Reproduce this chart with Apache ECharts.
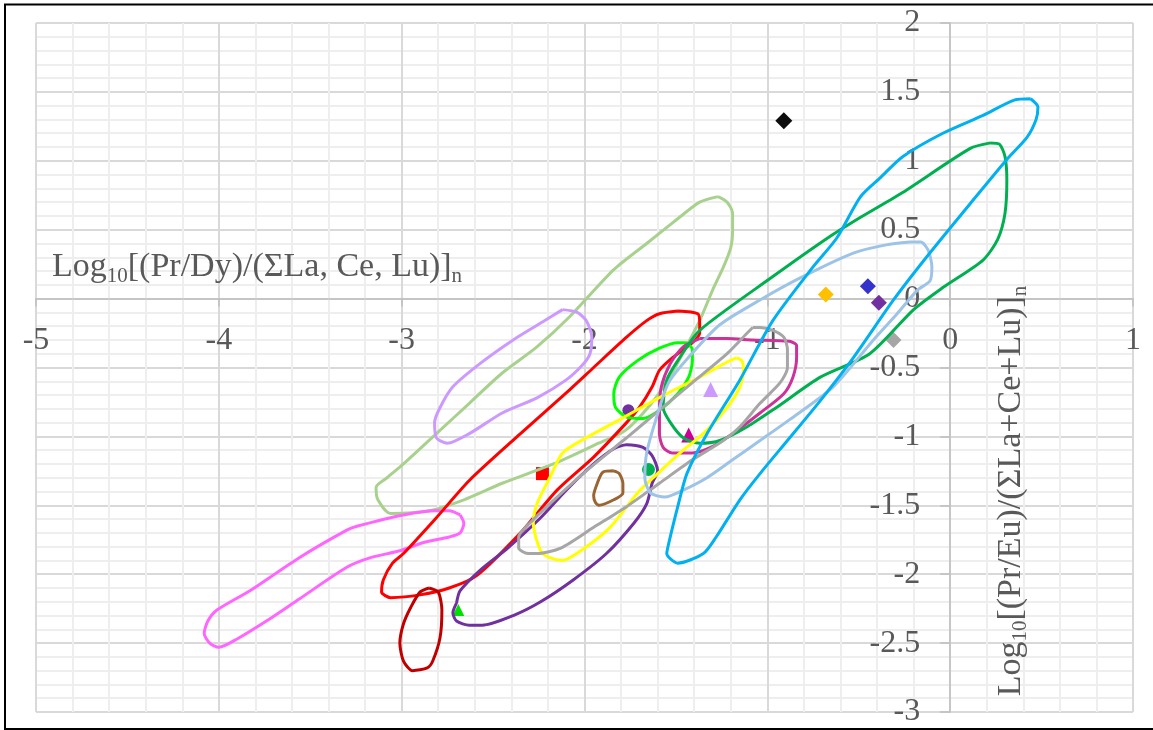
<!DOCTYPE html>
<html>
<head>
<meta charset="utf-8">
<title>Pr/Dy vs Pr/Eu</title>
<script src="https://cdn.jsdelivr.net/npm/echarts@6/dist/echarts.min.js"></script>
<style>
html, body { margin: 0; padding: 0; background: #fff; }
#chart { width: 1153px; height: 730px; }
</style>
</head>
<body>
<div id="chart"></div>
<script>
// field outlines, [x, y] in axis units
const lightGreenField = [[-1.27,0.74],[-1.22,0.70],[-1.19,0.62],[-1.19,0.50],[-1.20,0.37],[-1.24,0.23],[-1.30,0.06],[-1.37,-0.16],[-1.44,-0.34],[-1.53,-0.56],[-1.64,-0.77],[-1.78,-0.96],[-1.94,-1.06],[-2.17,-1.20],[-2.45,-1.34],[-2.66,-1.46],[-2.85,-1.54],[-3.06,-1.56],[-3.13,-1.46],[-3.14,-1.37],[-3.08,-1.30],[-2.99,-1.20],[-2.81,-0.98],[-2.63,-0.76],[-2.45,-0.54],[-2.26,-0.35],[-2.08,-0.13],[-1.84,0.21],[-1.66,0.40],[-1.48,0.59],[-1.37,0.70]];
const lilacField = [[-2.12,-0.08],[-2.04,-0.10],[-1.99,-0.16],[-1.96,-0.28],[-1.97,-0.40],[-2.01,-0.48],[-2.10,-0.59],[-2.26,-0.72],[-2.45,-0.83],[-2.63,-0.98],[-2.75,-1.05],[-2.81,-1.01],[-2.82,-0.90],[-2.79,-0.79],[-2.72,-0.64],[-2.57,-0.47],[-2.39,-0.30],[-2.23,-0.17]];
const pinkField = [[-2.68,-1.57],[-2.74,-1.54],[-2.81,-1.54],[-2.99,-1.57],[-3.24,-1.65],[-3.30,-1.68],[-3.56,-1.88],[-3.83,-2.12],[-4.01,-2.26],[-4.06,-2.34],[-4.08,-2.43],[-4.05,-2.50],[-4.00,-2.53],[-3.90,-2.47],[-3.74,-2.34],[-3.56,-2.18],[-3.30,-1.95],[-3.17,-1.88],[-3.01,-1.83],[-2.88,-1.77],[-2.74,-1.73],[-2.68,-1.70],[-2.66,-1.63]];
const redField = [[-1.49,-0.09],[-1.38,-0.11],[-1.37,-0.18],[-1.37,-0.25],[-1.41,-0.32],[-1.52,-0.43],[-1.59,-0.52],[-1.63,-0.64],[-1.70,-0.79],[-1.77,-0.90],[-1.95,-1.15],[-2.15,-1.39],[-2.35,-1.70],[-2.59,-2.01],[-2.74,-2.10],[-2.90,-2.15],[-3.06,-2.17],[-3.11,-2.13],[-3.10,-2.04],[-3.05,-1.92],[-2.99,-1.85],[-2.81,-1.59],[-2.63,-1.32],[-2.35,-0.98],[-2.08,-0.66],[-1.95,-0.50],[-1.77,-0.28],[-1.66,-0.16],[-1.59,-0.11]];
const darkRedField = [[-2.85,-2.10],[-2.80,-2.13],[-2.78,-2.26],[-2.79,-2.46],[-2.83,-2.63],[-2.86,-2.68],[-2.94,-2.70],[-2.99,-2.63],[-3.01,-2.50],[-2.99,-2.36],[-2.95,-2.24],[-2.90,-2.13]];
const purpleField = [[-2.70,-2.21],[-2.72,-2.28],[-2.70,-2.34],[-2.63,-2.37],[-2.56,-2.37],[-2.39,-2.30],[-2.24,-2.20],[-2.06,-2.04],[-1.88,-1.85],[-1.73,-1.63],[-1.66,-1.49],[-1.63,-1.34],[-1.60,-1.25],[-1.63,-1.14],[-1.68,-1.08],[-1.77,-1.06],[-1.84,-1.09],[-1.95,-1.20],[-2.10,-1.39],[-2.24,-1.59],[-2.42,-1.81],[-2.57,-1.97],[-2.68,-2.12]];
const brownField = [[-1.84,-1.25],[-1.81,-1.27],[-1.79,-1.34],[-1.79,-1.41],[-1.84,-1.46],[-1.92,-1.50],[-1.94,-1.48],[-1.95,-1.43],[-1.93,-1.34],[-1.90,-1.26]];
const yellowField = [[-1.17,-0.43],[-1.14,-0.45],[-1.13,-0.52],[-1.15,-0.64],[-1.22,-0.79],[-1.35,-0.98],[-1.46,-1.10],[-1.60,-1.27],[-1.71,-1.41],[-1.86,-1.66],[-2.02,-1.83],[-2.12,-1.90],[-2.19,-1.88],[-2.24,-1.83],[-2.28,-1.63],[-2.26,-1.49],[-2.19,-1.30],[-2.12,-1.12],[-1.99,-1.01],[-1.81,-0.88],[-1.55,-0.69],[-1.37,-0.57],[-1.22,-0.46]];
const grayField = [[-1.08,-0.21],[-1.04,-0.21],[-0.97,-0.23],[-0.91,-0.28],[-0.89,-0.37],[-0.89,-0.50],[-0.93,-0.61],[-1.04,-0.76],[-1.15,-0.93],[-1.24,-1.03],[-1.41,-1.17],[-1.59,-1.34],[-1.77,-1.51],[-1.95,-1.66],[-2.13,-1.81],[-2.26,-1.85],[-2.31,-1.85],[-2.36,-1.81],[-2.36,-1.73],[-2.30,-1.63],[-2.15,-1.44],[-1.99,-1.25],[-1.77,-1.01],[-1.59,-0.81],[-1.41,-0.61],[-1.22,-0.40],[-1.11,-0.25]];
const limeField = [[-1.44,-0.32],[-1.41,-0.37],[-1.41,-0.45],[-1.43,-0.57],[-1.49,-0.69],[-1.59,-0.81],[-1.68,-0.87],[-1.77,-0.86],[-1.83,-0.79],[-1.84,-0.69],[-1.81,-0.57],[-1.71,-0.45],[-1.59,-0.36],[-1.49,-0.32]];
const crimsonField = [[-1.37,-0.29],[-1.22,-0.29],[-1.08,-0.30],[-0.88,-0.31],[-0.84,-0.34],[-0.84,-0.43],[-0.86,-0.57],[-0.91,-0.69],[-1.04,-0.83],[-1.19,-0.98],[-1.31,-1.08],[-1.41,-1.12],[-1.52,-1.12],[-1.57,-1.08],[-1.59,-0.98],[-1.59,-0.81],[-1.58,-0.64],[-1.53,-0.47],[-1.46,-0.35]];
const greenField = [[0.22,1.13],[0.11,1.09],[-0.26,0.77],[-0.49,0.59],[-0.67,0.44],[-0.97,0.16],[-1.37,-0.23],[-1.48,-0.43],[-1.55,-0.59],[-1.57,-0.79],[-1.53,-0.90],[-1.46,-1.01],[-1.37,-1.05],[-1.26,-1.03],[-1.11,-0.93],[-0.95,-0.79],[-0.71,-0.57],[-0.44,-0.40],[-0.20,-0.08],[-0.04,0.08],[0.18,0.28],[0.26,0.43],[0.30,0.62],[0.31,0.86],[0.30,1.03],[0.27,1.12]];
const paleBlueField = [[-0.22,0.41],[-0.35,0.39],[-0.53,0.33],[-0.82,0.15],[-1.04,-0.01],[-1.26,-0.19],[-1.42,-0.41],[-1.54,-0.61],[-1.61,-0.88],[-1.66,-1.12],[-1.67,-1.30],[-1.64,-1.41],[-1.56,-1.44],[-1.46,-1.39],[-1.33,-1.30],[-1.19,-1.17],[-1.04,-1.03],[-0.88,-0.88],[-0.64,-0.64],[-0.42,-0.30],[-0.29,-0.11],[-0.18,0.06],[-0.11,0.13],[-0.10,0.23],[-0.12,0.35],[-0.16,0.41]];
const blueField = [[0.44,1.45],[0.35,1.44],[0.18,1.33],[-0.04,1.20],[-0.26,1.03],[-0.38,0.88],[-0.49,0.74],[-0.62,0.44],[-0.75,0.23],[-0.97,-0.16],[-1.15,-0.59],[-1.33,-0.98],[-1.44,-1.27],[-1.49,-1.51],[-1.54,-1.78],[-1.55,-1.85],[-1.49,-1.92],[-1.35,-1.85],[-1.28,-1.73],[-1.15,-1.46],[-1.04,-1.27],[-0.89,-1.03],[-0.71,-0.74],[-0.53,-0.43],[-0.31,-0.01],[-0.13,0.30],[0.11,0.69],[0.31,1.01],[0.42,1.17],[0.47,1.30],[0.48,1.39]];

// single samples
const blackPoint = [[-0.91, 1.29]];
const orangePoint = [[-0.68, 0.03]];
const bluePoint = [[-0.45, 0.09]];
const purplePoint = [[-0.39, -0.03]];
const grayPoint = [[-0.31, -0.30]];
const lilacPoint = [[-1.31, -0.66]];
const magentaPoint = [[-1.43, -0.99]];
const purpleDot = [[-1.76, -0.81]];
const greenDot = [[-1.65, -1.24]];
const redSquare = [[-2.23, -1.27]];
const limePoint = [[-2.69, -2.26]];

const FONT = 'Liberation Serif';
const TEXT = '#595959';

// plot box in px; axes cross at (0, 0) inside it
const PLOT = { left: 36, right: 20, top: 23, bottom: 18 };
const X_RANGE = [-5, 1];
const Y_RANGE = [-3, 2];
const plotW = 1153 - PLOT.left - PLOT.right;
const plotH = 730 - PLOT.top - PLOT.bottom;
// shift the axes from the plot edges to the zero lines
const xAxisShift = -plotH * (0 - Y_RANGE[0]) / (Y_RANGE[1] - Y_RANGE[0]);
const yAxisShift = -plotW * (0 - X_RANGE[0]) / (X_RANGE[1] - X_RANGE[0]);

function outline(name, pts, color) {
  return {
    name: name,
    type: 'line',
    data: pts.concat([pts[0]]),
    showSymbol: false,
    symbol: 'none',
    smooth: 0.25,
    lineStyle: { color: color, width: 3 }
  };
}

function marker(name, pts, symbol, size, color) {
  return {
    name: name,
    type: 'scatter',
    data: pts,
    symbol: symbol,
    symbolSize: size,
    itemStyle: { color: color, opacity: 1 }
  };
}

const titleRich = {
  m: { fontFamily: FONT, fontSize: 34, lineHeight: 40, fill: TEXT },
  s: { fontFamily: FONT, fontSize: 21, lineHeight: 22, fill: TEXT, verticalAlign: 'bottom' }
};

const chart = echarts.init(document.getElementById('chart'));

chart.setOption({
  animation: false,
  backgroundColor: '#fff',
  grid: {
    left: PLOT.left, right: PLOT.right, top: PLOT.top, bottom: PLOT.bottom,
    containLabel: false, outerBoundsMode: 'none'
  },
  xAxis: {
    type: 'value',
    min: X_RANGE[0],
    max: X_RANGE[1],
    interval: 1,
    position: 'bottom',
    offset: xAxisShift,
    axisLine: { onZero: false, lineStyle: { color: '#bfbfbf', width: 1.5 } },
    axisTick: { show: true, length: 8, lineStyle: { color: '#bfbfbf', width: 1.5 } },
    axisLabel: { margin: 26, color: TEXT, fontFamily: FONT, fontSize: 32 },
    splitLine: { show: true, lineStyle: { color: '#d9d9d9', width: 2 } },
    minorTick: { show: false, splitNumber: 5 },
    minorSplitLine: { show: true, lineStyle: { color: '#eeeeee', width: 2 } }
  },
  yAxis: {
    type: 'value',
    min: Y_RANGE[0],
    max: Y_RANGE[1],
    interval: 0.5,
    position: 'left',
    offset: yAxisShift,
    axisLine: { onZero: false, lineStyle: { color: '#bfbfbf', width: 1.5 } },
    axisTick: { show: true, length: 10, lineStyle: { color: '#bfbfbf', width: 1.5 } },
    axisLabel: { margin: 30, color: TEXT, fontFamily: FONT, fontSize: 32 },
    splitLine: { show: true, lineStyle: { color: '#d9d9d9', width: 2 } },
    minorTick: { show: false, splitNumber: 5 },
    minorSplitLine: { show: true, lineStyle: { color: '#eeeeee', width: 2 } }
  },
  series: [
    marker('black', blackPoint, 'diamond', 17, '#0d0d0d'),
    marker('orange', orangePoint, 'diamond', 16, '#ffc000'),
    marker('blue', bluePoint, 'diamond', 16, '#3333cc'),
    marker('purple', purplePoint, 'diamond', 16, '#7030a0'),
    marker('gray', grayPoint, 'diamond', 16, '#a6a6a6'),
    marker('lilac', lilacPoint, 'triangle', 15, '#cc99ff'),
    marker('magenta', magentaPoint, 'triangle', 15, '#cc0099'),
    marker('purple dot', purpleDot, 'circle', 12, '#7030a0'),
    marker('green dot', greenDot, 'circle', 13, '#00b050'),
    marker('red square', redSquare, 'rect', 13, '#ff0000'),
    marker('lime', limePoint, 'triangle', 12, '#00e000'),
    outline('light green', lightGreenField, '#a9d18e'),
    outline('lilac', lilacField, '#cc99ff'),
    outline('pink', pinkField, '#ff66ff'),
    outline('red', redField, '#ff0000'),
    outline('dark red', darkRedField, '#c00000'),
    outline('purple', purpleField, '#7030a0'),
    outline('brown', brownField, '#996633'),
    outline('lime', limeField, '#00ff00'),
    outline('crimson', crimsonField, '#cc3399'),
    outline('green', greenField, '#00b050'),
    outline('yellow', yellowField, '#ffff00'),
    outline('gray', grayField, '#a6a6a6'),
    outline('pale blue', paleBlueField, '#9dc3e6'),
    outline('blue', blueField, '#00b0f0')
  ],
  graphic: [
    // outer frame
    {
      type: 'rect', silent: true, z: 100,
      shape: { x: 5, y: 4.5, width: 1160, height: 724.5 },
      style: { fill: 'none', stroke: '#000', lineWidth: 2 }
    },
    // x axis title, top left
    {
      type: 'text', x: 52, y: 247, z: 50,
      style: {
        text: '{m|Log}{s|10}{m|[(Pr/Dy)/(ΣLa, Ce, Lu)]}{s|n}',
        align: 'left', verticalAlign: 'top',
        rich: titleRich
      }
    },
    // y axis title, vertical on the right
    {
      type: 'text', x: 1011, y: 491, rotation: Math.PI / 2, z: 50,
      style: {
        text: '{m|Log}{s|10}{m|[(Pr/Eu)/(ΣLa+Ce+Lu)]}{s|n}',
        align: 'center', verticalAlign: 'middle',
        rich: titleRich
      }
    }
  ]
});
</script>
</body>
</html>
